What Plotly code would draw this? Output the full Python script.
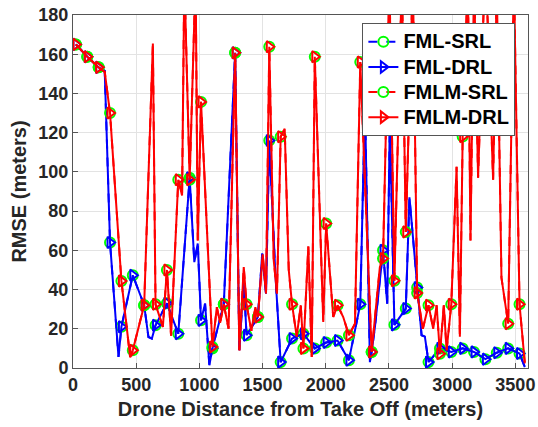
import plotly.graph_objects as go

# ---- data (distance in meters, RMSE in meters) ----
marker_x = [23, 113, 203, 293, 383, 473, 563, 653, 743, 833, 923, 1013, 1103, 1193,
            1283, 1373, 1463, 1553, 1643, 1733, 1823, 1913, 2003, 2093, 2183, 2273,
            2363, 2453, 2543, 2633, 2723, 2813, 2903, 2993, 3083, 3173, 3263, 3353,
            3443, 3533]

fml_drl_marker_y = [165, 158.7, 153.3, 64, 21, 47.3, 32, 21.8, 33, 17.5, 97, 24.3, 10,
                    32.5, 160.7, 16.7, 26, 116, 3, 15, 17.5, 10, 13, 14, 4, 32.5, 8.2, 60,
                    22, 30.3, 41, 3, 10, 8.2, 10, 8.2, 4.5, 7.8, 10, 7.4]
fml_mid_x = [251, 360, 597, 624, 960, 987, 1045, 1079, 1158, 1316, 1351, 1497, 1527, 1601,
             2310, 2349, 2389, 2486, 2507, 2662, 2758, 2784, 3575]
fml_mid_y = [151.5, 5.6, 15.8, 15, 54, 63.5, 32.8, 1.4, 23.5, 9, 45, 58.3, 38, 48,
             135, 3, 21, 32.8, 125, 87, 16.7, 16, 0.5]

fmlm_drl_marker_y = [165, 158.7, 153.3, 130, 44.4, 9, 32, 32.5, 50, 96, 96, 135.7, 10.7,
                     32.5, 160.7, 32.5, 26, 163.8, 117.9, 32.5, 10, 158.7, 73.7, 32, 16.7,
                     156, 8.2, 55.8, 44.5, 69.4, 38.3, 32, 7.3, 32.5, 118, 200, 210, 195,
                     22.6, 32.5]
fmlm_mid_x = [251, 452, 632, 711, 776, 863, 881, 970, 987, 1138, 1164, 1231, 1316, 1351,
              1411, 1443, 1501, 1527, 1588, 1614, 1675, 1707, 1770, 1802, 1862, 1889,
              1980, 2059, 2138, 2231, 2428, 2503, 2602, 2689, 2768, 2850, 2877, 2934,
              2956, 3035, 3061, 3124, 3145, 3205, 3324, 3390, 3488, 3575]
fmlm_mid_y = [151, 5.6, 165.5, 21, 16.5, 88, 200, 200, 65, 31, 23, 20, 9, 51.5,
              19, 31, 58, 38, 55, 38, 122, 50, 16, 32, 62, 5.6,
              23.5, 26, 26, 22.6, 51.5, 200, 200, 200, 20, 20, 32, 32,
              9, 102.6, 16, 200, 65, 97, 96, 46, 200, 2.4]

# the SRL curves coincide with the DRL curves in the figure
fml_srl_marker_y = list(fml_drl_marker_y)
fmlm_srl_marker_y = list(fmlm_drl_marker_y)

x_ticks = [0, 500, 1000, 1500, 2000, 2500, 3000, 3500]
y_ticks = [0, 20, 40, 60, 80, 100, 120, 140, 160, 180]

BLUE = "#0000ff"
RED = "#ff0000"
GREEN = "#00ff00"


def build_path(mx, my, ix, iy):
    pts = sorted(zip(list(mx) + list(ix), list(my) + list(iy)))
    return [p[0] for p in pts], [p[1] for p in pts]


series = [
    ("FML-SRL", BLUE, "dash", "circle-open", GREEN, fml_srl_marker_y, fml_mid_x, fml_mid_y),
    ("FML-DRL", BLUE, "solid", "triangle-right-open", BLUE, fml_drl_marker_y, fml_mid_x, fml_mid_y),
    ("FMLM-SRL", RED, "dash", "circle-open", GREEN, fmlm_srl_marker_y, fmlm_mid_x, fmlm_mid_y),
    ("FMLM-DRL", RED, "solid", "triangle-right-open", RED, fmlm_drl_marker_y, fmlm_mid_x, fmlm_mid_y),
]

fig = go.Figure()
for name, lc, dash, sym, mc, my, ix, iy in series:
    lx, ly = build_path(marker_x, my, ix, iy)
    fig.add_trace(go.Scatter(x=lx, y=ly, mode="lines", showlegend=False,
                             line=dict(color=lc, width=2, dash=dash), hoverinfo="skip"))
    fig.add_trace(go.Scatter(x=marker_x, y=my, mode="markers", showlegend=False,
                             marker=dict(symbol=sym, size=10, color=mc,
                                         line=dict(width=2, color=mc)),
                             name=name))

for name, lc, dash, sym, mc, my, ix, iy in series:
    fig.add_trace(go.Scatter(x=[None], y=[None], mode="lines+markers",
                             name='<span style="font-size:20px">' + name + '</span>',
                             line=dict(color=lc, width=2, dash=dash),
                             marker=dict(symbol=sym, size=10, color=mc,
                                         line=dict(width=2, color=mc))))

tick_font = dict(family="Liberation Sans", size=18, color="#262626", weight="bold")
title_font = dict(family="Liberation Sans", size=20, color="#262626", weight="bold")

fig.update_layout(
    width=538, height=427,
    margin=dict(l=73, r=10, t=15, b=59),
    paper_bgcolor="white", plot_bgcolor="white",
    showlegend=True,
    legend=dict(x=0.636, y=0.9765, xanchor="left", yanchor="top",
                bgcolor="white", bordercolor="#555555", borderwidth=1,
                font=dict(family="Liberation Sans", size=17, color="black", weight="bold"),
                tracegroupgap=0),
)
fig.update_xaxes(range=[0, 3600], tickvals=x_ticks, ticktext=[str(v) for v in x_ticks],
                 ticks="inside", ticklen=5, tickcolor="#555555",
                 showline=True, linecolor="#555555", linewidth=1, mirror=True,
                 showgrid=True, gridcolor="#e3e3e3", gridwidth=1, zeroline=False,
                 tickfont=tick_font, automargin=False,
                 title=dict(text="Drone Distance from Take Off (meters)", font=title_font, standoff=8))
fig.update_yaxes(range=[0, 180], tickvals=y_ticks, ticktext=[str(v) for v in y_ticks],
                 ticks="inside", ticklen=5, tickcolor="#555555",
                 showline=True, linecolor="#555555", linewidth=1, mirror=True,
                 showgrid=True, gridcolor="#e3e3e3", gridwidth=1, zeroline=False,
                 tickfont=tick_font, automargin=False,
                 title=dict(text="RMSE (meters)", font=title_font, standoff=6))

fig.write_html("out.html")
